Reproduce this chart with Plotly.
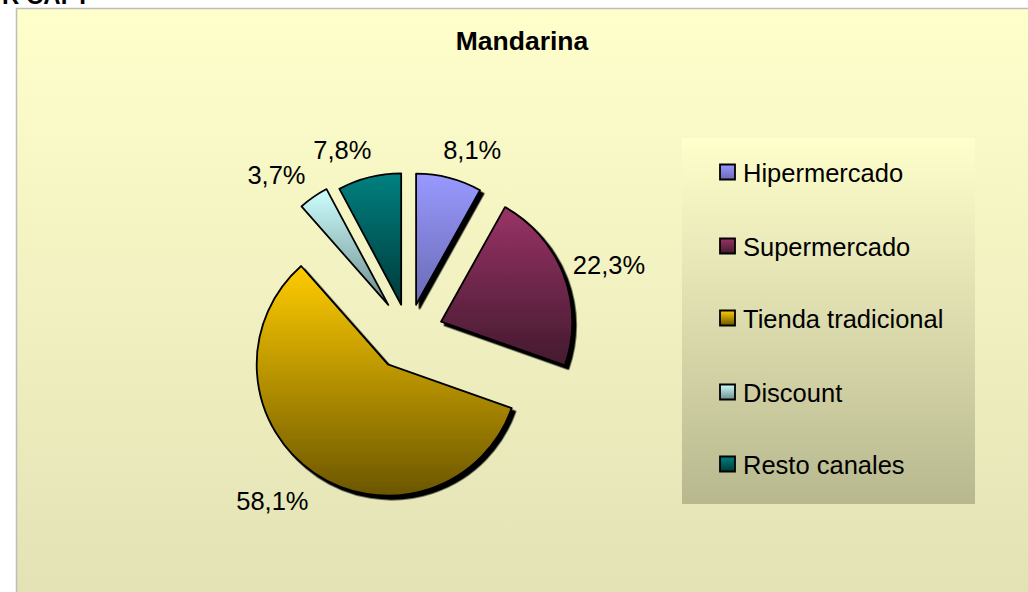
import plotly.graph_objects as go

categories = ["Hipermercado", "Supermercado", "Tienda tradicional", "Discount", "Resto canales"]
shares = [8.1, 22.3, 58.1, 3.7, 7.8]
pulls = [0.23, 0.265, 0.28, 0.27, 0.23]
top_colors = ["#9999FF", "#993366", "#FFCC00", "#CCFFFF", "#008080"]
bottom_colors = ["#6A6AB4", "#431A2E", "#6B5600", "#6F8B8B", "#003A3A"]
title_text = "Mandarina"
clipped_heading = "R CAFT"
W, H = 1028, 592

fig = go.Figure(go.Pie(
    labels=categories, values=shares, pull=pulls, sort=False,
    direction="clockwise", rotation=0,
    texttemplate="%{percent:.1%}", textposition="outside",
    outsidetextfont=dict(family="Liberation Sans", size=25.5, color="#000000"),
    marker=dict(colors=top_colors, line=dict(color="#000000", width=1.8)),
    domain=dict(x=[240.5 / W, 576.5 / W], y=[1 - 502 / H, 1 - 166 / H]),
    automargin=False, hoverinfo="skip",
))
fig.update_layout(
    width=W, height=H, separators=",.", paper_bgcolor="#FFFFFF",
    margin=dict(l=0, r=0, t=0, b=0),
    font=dict(family="Liberation Sans", color="#000000"),
    title=dict(text="<b>" + title_text + "</b>", x=522 / W, xanchor="center",
               y=1 - 41 / H, yanchor="middle",
               font=dict(family="Liberation Sans", size=26.5, color="#000000")),
    legend=dict(x=682 / W, y=1 - 138 / H, xanchor="left", yanchor="top",
                bgcolor="#FFFFCC", font=dict(size=25.5, family="Liberation Sans"),
                traceorder="normal"),
    shapes=[dict(type="rect", xref="paper", yref="paper", layer="below",
                 x0=16.5 / W, x1=1.01, y0=-0.01, y1=1 - 8.5 / H,
                 fillcolor="#FFFFCC", line=dict(color="#BDBDBD", width=1.5))],
    annotations=[dict(text="<b>" + clipped_heading + "</b>", xref="paper", yref="paper",
                      x=0, y=1 - 11 / H, xanchor="left", yanchor="bottom", showarrow=False,
                      font=dict(family="Liberation Sans", size=24, color="#000000"))],
)

post_script = """
document.body.style.margin = '0';
var gd = document.getElementsByClassName('plotly-graph-div')[0];
var svg = gd.querySelector('svg.main-svg');
var NS = 'http://www.w3.org/2000/svg';
var defs = svg.querySelector('defs') || svg.insertBefore(document.createElementNS(NS, 'defs'), svg.firstChild);
function grad(id, a, b) {
  var g = document.createElementNS(NS, 'linearGradient');
  g.setAttribute('id', id); g.setAttribute('x1', '0'); g.setAttribute('y1', '0');
  g.setAttribute('x2', '0'); g.setAttribute('y2', '1');
  [[0, a], [1, b]].forEach(function (s) {
    var st = document.createElementNS(NS, 'stop');
    st.setAttribute('offset', s[0]); st.setAttribute('stop-color', s[1]);
    g.appendChild(st);
  });
  defs.appendChild(g);
}
var tops = TOPS, bots = BOTS;
tops.forEach(function (c, i) { grad('sl' + i, c, bots[i]); });
grad('chartbg', '#FFFFCC', '#E3E2B5');
grad('legbg', '#FFFFCC', '#B8B88F');
var f = document.createElementNS(NS, 'filter');
f.setAttribute('id', 'sliceshadow');
f.setAttribute('x', '-20%'); f.setAttribute('y', '-20%');
f.setAttribute('width', '140%'); f.setAttribute('height', '140%');
var ds = document.createElementNS(NS, 'feDropShadow');
ds.setAttribute('dx', '3.5'); ds.setAttribute('dy', '3.5');
ds.setAttribute('stdDeviation', '0'); ds.setAttribute('flood-color', '#000000');
f.appendChild(ds); defs.appendChild(f);
var shifts = [[-13, -15], [2, -9], [1, 18], [-1, -13], [9, -10]];
gd.querySelectorAll('.slice').forEach(function (s, i) {
  var p = s.querySelector('path.surface');
  p.style.fill = 'url(#sl' + i + ')';
  if (i !== 3 && i !== 4) p.style.filter = 'url(#sliceshadow)';
  var t = s.querySelector('.slicetext');
  if (t) t.setAttribute('transform', 'translate(' + shifts[i][0] + ',' + shifts[i][1] + ')');
  var l = s.querySelector('path.textline');
  if (l) l.style.display = 'none';
});
var rows = [34, 108, 180, 254, 326];
gd.querySelectorAll('.legend .traces').forEach(function (t, i) {
  t.setAttribute('transform', 'translate(0,' + rows[i] + ')');
  var p = t.querySelector('.legendpoints path');
  p.setAttribute('d', 'M7.5,7.5H-7.5V-7.5H7.5Z');
  p.setAttribute('transform', 'translate(45.5,0)');
  p.style.fill = 'url(#sl' + i + ')';
  var tx = t.querySelector('text.legendtext');
  tx.setAttribute('x', '61');
});
gd.querySelector('.legend .scrollbox').removeAttribute('clip-path');
gd.querySelector('.legend').removeAttribute('clip-path');
var lb = gd.querySelector('.legend .bg');
lb.setAttribute('width', '293'); lb.setAttribute('height', '366');
lb.style.fill = 'url(#legbg)'; lb.style.strokeWidth = '0';
var sh = gd.querySelector('.shapelayer path');
if (sh) sh.style.fill = 'url(#chartbg)';
""".replace("TOPS", str(top_colors)).replace("BOTS", str(bottom_colors))

fig.write_html("out.html", post_script=post_script, config={"displayModeBar": False})
